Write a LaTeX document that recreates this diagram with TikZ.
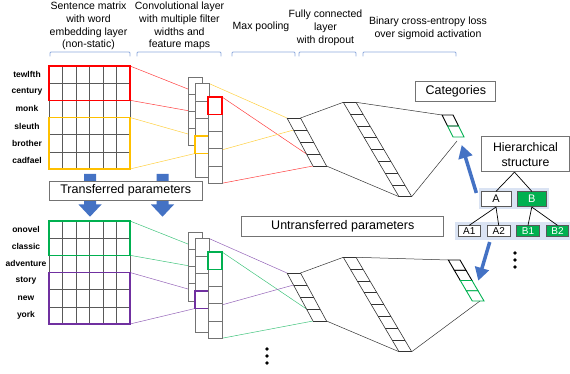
\documentclass[tikz,border=0pt]{standalone}
\usepackage{fontspec}
\setmainfont{Liberation Sans}
\usetikzlibrary{calc,arrows.meta}

\definecolor{capred}{HTML}{FF0000}
\definecolor{capyellow}{HTML}{FFC000}
\definecolor{capgreen}{HTML}{00B050}
\definecolor{cappurple}{HTML}{7030A0}
\definecolor{capblue}{HTML}{4472C4}
\definecolor{capband}{HTML}{DAE3F3}
\definecolor{capbrace}{HTML}{8FAADC}
\definecolor{cellgray}{HTML}{595959}

\begin{document}
\begin{tikzpicture}[x=1pt,y=-1pt,
		header/.style={align=center,font=\fontsize{10.5}{12.8}\selectfont,inner sep=0pt},
		bracket/.style={draw=capbrace,line width=0.8pt,rounded corners=1pt},
		wordlabel/.style={font=\fontsize{8.5}{10}\selectfont\bfseries,inner sep=0pt},
		cell/.style={draw=cellgray,line width=0.6pt},
		colcell/.style={draw=black!55,line width=0.6pt,fill=white},
		slcell/.style={draw=black!80,line width=0.6pt},
		link/.style={line width=0.5pt},
		filt/.style={line width=1.3pt},
		outcell/.style={line width=0.9pt},
		labelbox/.style={draw=black!55,fill=white,line width=0.9pt,inner sep=0pt,font=\fontsize{12.5}{15}\selectfont},
		leafbox/.style={draw=black!65,line width=0.7pt,inner sep=0pt,font=\fontsize{10}{11}\selectfont},
		bluearrow/.style={draw=capblue,line width=3.5pt,-{Triangle[length=13pt,width=14pt]}}]
		\useasboundingbox (0,0) rectangle (570,374);
		
		%headers
		\node[header] (h-sent) at (88.5,26) {Sentence matrix\\with word\\embedding layer\\(non-static)};
		\node[header] (h-conv) at (179.5,26) {Convolutional layer\\with multiple filter\\widths and\\feature maps};
		\node[header] (h-pool) at (261,27) {Max pooling};
		\node[header] (h-fc) at (325.5,28) {Fully connected\\layer\\with dropout};
		\node[header] (h-loss) at (428,28.5) {Binary cross-entropy loss\\over sigmoid activation};
		\foreach \a/\b in {50/130,137/221,232/295,299/356,363/456}
			\draw[bracket] (\a,56.5) -- (\a,52) -- (\b,52) -- (\b,56.5);
		
		%both networks
		\foreach \net/\dy/\ca/\cb in {t/0/capred/capyellow,b/155/capgreen/cappurple}{
			\begin{scope}[shift={(0,\dy)}]
			\coordinate (\net-m1) at (130,66);
			\coordinate (\net-m2) at (130,100.3);
			\coordinate (\net-m3) at (130,117.5);
			\coordinate (\net-m4) at (130,169);
			\coordinate (\net-fa) at (208,97);
			\coordinate (\net-fab) at (208,114.25);
			\coordinate (\net-far) at (222,97);
			\coordinate (\net-c3) at (222,183.25);
			\coordinate (\net-fb) at (195,136);
			\coordinate (\net-fbb) at (195,153.5);
			\coordinate (\net-fbr) at (209,153.5);
			\coordinate (\net-c2) at (209,83.5);
			\coordinate (\net-p0) at (287,118);
			\coordinate (\net-p1) at (293.5,130);
			\coordinate (\net-p3) at (306.5,154);
			\coordinate (\net-p4) at (313,166);
			\coordinate (\net-pr0) at (300.5,118);
			\coordinate (\net-pr4) at (326.5,166);
			\coordinate (\net-f0) at (343.3,102.3);
			\coordinate (\net-f8) at (399,196.7);
			\coordinate (\net-fr0) at (356,102.3);
			\coordinate (\net-fr8) at (411.7,196.7);
			
			%links
			\draw[link,\ca!75] (\net-m1) -- (\net-fa);
			\draw[link,\ca!75] (\net-m2) -- (\net-fab);
			\draw[link,\cb!75] (\net-m3) -- (\net-fb);
			\draw[link,\cb!75] (\net-m4) -- (\net-fbb);
			\draw[link,\ca!75] (\net-far) -- (\net-p3);
			\draw[link,\ca!75] (\net-c3) -- (\net-p4);
			\draw[link,\cb!75] (\net-c2) -- (\net-p0);
			\draw[link,\cb!75] (\net-fbr) -- (\net-p1);
			\draw[link,black!80] (\net-pr0) -- (\net-f0);
			\draw[link,black!80] (\net-pr4) -- (\net-f8);
			
			%sentence matrix
			\foreach \c in {0,...,6}
				\draw[cell] ({49+\c*13.5},66) -- ({49+\c*13.5},169);
			\foreach \r in {0,...,6}
				\draw[cell] (49,{66+\r*17.17}) -- (130,{66+\r*17.17});
			\draw[filt,\ca] (49,66) rectangle (\net-m2);
			\draw[filt,\cb] (49,117.5) rectangle (\net-m4);
			
			%feature maps
			\draw[colcell] (188,77) rectangle (202,145.8);
			\foreach \k in {1,2,3}
				\draw[colcell] (188,{77+\k*17.2}) -- ++(14,0);
			\draw[colcell] (195,83.5) rectangle (209,177);
			\foreach \k in {1,...,4}
				\draw[colcell] (195,{83.5+\k*17.5}) -- ++(14,0);
			\draw[filt,\cb] (\net-fb) rectangle (\net-fbr);
			\draw[colcell] (208,97) rectangle (\net-c3);
			\foreach \k in {1,...,4}
				\draw[colcell] (208,{97+\k*17.25}) -- ++(14,0);
			\draw[filt,\ca] (\net-fa) rectangle (222,114.25);
			
			%max pooling
			\draw[slcell] (\net-p0) -- (\net-p4) (\net-pr0) -- (\net-pr4);
			\foreach \k in {0,...,4}
				\draw[slcell] ({287+\k*6.5},{118+\k*12}) -- ++(13.5,0);
			
			%fully connected
			\draw[slcell] (\net-f0) -- (\net-f8) (\net-fr0) -- (\net-fr8);
			\foreach \k in {0,...,8}
				\draw[slcell] ({343.3+\k*6.96},{102.3+\k*11.8}) -- ++(12.7,0);
			\end{scope}
		}
		
		%words
		\foreach \w [count=\i] in {tewlfth,century,monk,sleuth,brother,cadfael}
			\node[wordlabel] (wt-\i) at (27,{66+(\i-0.5)*17.17}) {\w};
		\foreach \w [count=\i] in {onovel,classic,adventure,story,new,york}
			\node[wordlabel] (wb-\i) at (26,{221+(\i-0.5)*17.17}) {\w};
		
		%output layers
		\coordinate (ot-0) at (442,115);
		\coordinate (ot-end) at (457,141);
		\coordinate (ob-0) at (448.3,260);
		\coordinate (ob-end) at (480,301);
		\draw[link,black!80] (t-fr0) -- (ot-0);
		\draw[link,black!80] (t-fr8) -- (ot-end);
		\draw[link,black!80] (b-fr0) -- (ob-0);
		\draw[link,black!80] (b-fr8) -- (ob-end);
		\foreach \k/\c in {0/black,1/capgreen}
			\draw[outcell,\c] ({442+5.5*\k},{115+11*\k}) -- ++(11,0) -- ++(5.5,11) -- ++(-11,0) -- cycle;
		\foreach \k/\c in {0/black,1/black,2/capgreen,3/capgreen}
			\draw[outcell,\c] ({448.3+6*\k},{260+10.25*\k}) -- ++(11.7,0) -- ++(6,10.25) -- ++(-11.7,0) -- cycle;
		
		%transferred parameters
		\foreach \cx in {90,162.5}
			\fill[capblue] ({\cx-6},174) -- ({\cx+6},174) -- ({\cx+6},204.5) -- ({\cx+11.5},204.5)
				-- (\cx,216.7) -- ({\cx-11.5},204.5) -- ({\cx-6},204.5) -- cycle;
		\node[labelbox,minimum width=153pt,minimum height=19pt] (trans) at (125.7,190.5) {Transferred parameters};
		\node[labelbox,minimum width=202pt,minimum height=19.5pt] (untrans) at (342.8,226.3) {Untransferred parameters};
		\node[labelbox,minimum width=80pt,minimum height=20pt] (cat) at (455.8,91.7) {Categories};
		
		%hierarchy
		\node[labelbox,minimum width=87.6pt,minimum height=35pt,align=center,font=\fontsize{12.3}{15}\selectfont] (hier) at (525.5,154.2) {Hierarchical\\structure};
		\fill[capband] (479,188.3) rectangle (549.3,209);
		\fill[capband] (455,221.7) rectangle (570,240);
		\node[leafbox,fill=white,minimum width=30pt,minimum height=15pt,font=\fontsize{11}{12}\selectfont] (nA) at (496,199.2) {A};
		\node[leafbox,fill=capgreen,text=white,minimum width=29.7pt,minimum height=15pt,font=\fontsize{11}{12}\selectfont] (nB) at (531.8,199.2) {B};
		\node[leafbox,fill=white,minimum width=21.7pt,minimum height=11pt] (nA1) at (469.2,231.2) {A1};
		\node[leafbox,fill=white,minimum width=22.7pt,minimum height=11pt] (nA2) at (498.7,231.2) {A2};
		\node[leafbox,fill=capgreen,text=white,minimum width=22.6pt,minimum height=11pt] (nB1) at (528,231.2) {B1};
		\node[leafbox,fill=capgreen,text=white,minimum width=21.6pt,minimum height=11pt] (nB2) at (557.5,231.2) {B2};
		\draw[line width=0.7pt] ([xshift=-11pt]hier.south) -- (nA.north);
		\draw[line width=0.7pt] ([xshift=-11pt]hier.south) -- (nB.north);
		\draw[line width=0.7pt] (nA.south) -- (nA1.north);
		\draw[line width=0.7pt] (nA.south) -- (nA2.north);
		\draw[line width=0.7pt] (nB.south) -- (nB1.north);
		\draw[line width=0.7pt] (nB.south) -- (nB2.north);
		
		%blue arrows
		\coordinate (tgt-t) at (461.7,145);
		\coordinate (tgt-b) at (478.3,280.7);
		\draw[bluearrow] ($(nA.north west)+(-4.3,1.6)$) -- (tgt-t);
		\draw[bluearrow] ($(nA2.south west)+(2.7,5)$) -- (tgt-b);
		
		%dots
		\foreach \y in {349,356,363}
			\fill (267,\y) circle (1.8);
		\foreach \y in {253,260,267}
			\fill (515,\y) circle (1.8);
		
		\end{tikzpicture}
\end{document}
